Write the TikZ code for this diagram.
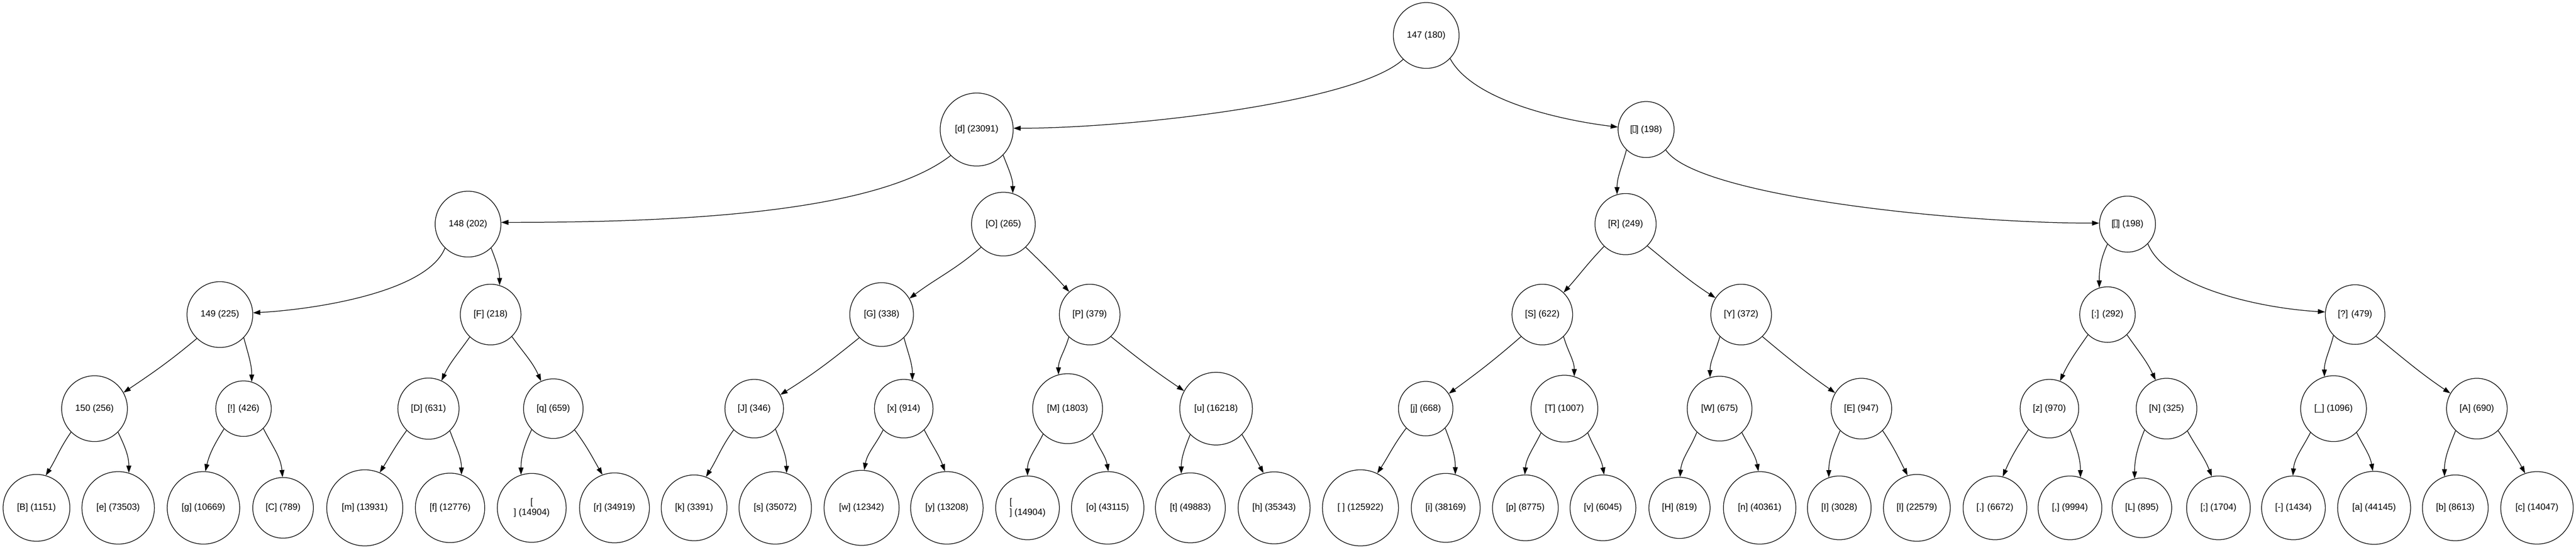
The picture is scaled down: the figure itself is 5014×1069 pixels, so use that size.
\documentclass[tikz,border=0pt]{standalone}
\usepackage{fontspec}
\setmainfont{Liberation Sans}
\usetikzlibrary{arrows.meta}
\newcommand\mglyph{{\fboxsep=0pt\fboxrule=1pt\fbox{\rule{0pt}{12.5pt}\hspace{4.5pt}}}}
\tikzset{
  nd/.style={circle, draw, line width=1.25pt, inner sep=0pt,
    font=\fontsize{17.5}{20.5}\selectfont, minimum size=2*#1},
  edge/.style={line width=1.25pt, -{Triangle[length=14pt,width=9.5pt]}},
}
\begin{document}
\begin{tikzpicture}[x=1pt,y=1pt]
\useasboundingbox (0,0) rectangle (5014,1069);
% level 0
\node[nd=64] (root) at (2776,1000) {147 (180)};
% level 1
\node[nd=71] (d) at (1901,817) {[d] (23091)};
\node[nd=54.5] (bA) at (3204,817) {[\mglyph] (198)};
% level 2
\node[nd=64] (n148) at (911,633) {148 (202)};
\node[nd=62] (O) at (1953,633) {[O] (265)};
\node[nd=59.5] (R) at (3164,633) {[R] (249)};
\node[nd=54.5] (bB) at (4141,633) {[\mglyph] (198)};
% level 3
\node[nd=64] (n149) at (428,457) {149 (225)};
\node[nd=59] (F) at (955,457) {[F] (218)};
\node[nd=62] (G) at (1716,457) {[G] (338)};
\node[nd=59] (P) at (2121,457) {[P] (379)};
\node[nd=59] (S) at (3002,457) {[S] (622)};
\node[nd=59] (Y) at (3389,457) {[Y] (372)};
\node[nd=54] (colon) at (4102,457) {[:] (292)};
\node[nd=58] (qm) at (4584,457) {[?] (479)};
% level 4
\node[nd=64] (n150) at (184,274) {150 (256)};
\node[nd=54] (excl) at (474,274) {[!] (426)};
\node[nd=59.5] (D) at (834,274) {[D] (631)};
\node[nd=58] (q) at (1077,274) {[q] (659)};
\node[nd=57] (J) at (1468,274) {[J] (346)};
\node[nd=57] (x) at (1759,274) {[x] (914)};
\node[nd=68] (M) at (2078,274) {[M] (1803)};
\node[nd=70.7] (u) at (2367,274) {[u] (16218)};
\node[nd=53] (j) at (2775,274) {[j] (668)};
\node[nd=65] (T) at (3045,274) {[T] (1007)};
\node[nd=63] (W) at (3347,274) {[W] (675)};
\node[nd=59] (E) at (3623,274) {[E] (947)};
\node[nd=57] (z) at (3989,274) {[z] (970)};
\node[nd=59] (N) at (4217,274) {[N] (325)};
\node[nd=64] (us) at (4542,274) {[\_] (1096)};
\node[nd=59] (A) at (4821,274) {[A] (690)};
% level 5
\node[nd=65] (B) at (71,81) {[B] (1151)};
\node[nd=70.5] (e) at (230,81) {[e] (73503)};
\node[nd=70.5] (g) at (396,81) {[g] (10669)};
\node[nd=59] (C) at (551,81) {[C] (789)};
\node[nd=74] (m) at (710,81) {[m] (13931)};
\node[nd=67.5] (f) at (876,81) {[f] (12776)};
\node[nd=67, align=center] (nlA) at (1035,81) {[\\] (14904)};
\node[nd=68] (r) at (1196,81) {[r] (34919)};
\node[nd=64] (k) at (1351,81) {[k] (3391)};
\node[nd=70.5] (s) at (1509,81) {[s] (35072)};
\node[nd=73] (w) at (1677,81) {[w] (12342)};
\node[nd=70.5] (y) at (1843,81) {[y] (13208)};
\node[nd=62, align=left] (nlB) at (2000,81) {[\\] (14904)};
\node[nd=70.5] (o) at (2156,81) {[o] (43115)};
\node[nd=68] (t) at (2317,81) {[t] (49883)};
\node[nd=70] (h) at (2480,81) {[h] (35343)};
\node[nd=74] (sp) at (2648,81) {[ ] (125922)};
\node[nd=67] (i) at (2814,81) {[i] (38169)};
\node[nd=64] (p) at (2969,81) {[p] (8775)};
\node[nd=64] (v) at (3120,81) {[v] (6045)};
\node[nd=59.5] (H) at (3269,81) {[H] (819)};
\node[nd=70.5] (n) at (3425,81) {[n] (40361)};
\node[nd=62] (I) at (3580,81) {[I] (3028)};
\node[nd=65] (l) at (3731,81) {[l] (22579)};
\node[nd=62] (dot) at (3883,81) {[.] (6672)};
\node[nd=62] (comma) at (4029,81) {[,] (9994)};
\node[nd=58] (L) at (4169,81) {[L] (895)};
\node[nd=62] (semi) at (4318,81) {[;] (1704)};
\node[nd=62] (dash) at (4464,81) {[-] (1434)};
\node[nd=71] (a) at (4621,81) {[a] (44145)};
\node[nd=64] (b) at (4779,81) {[b] (8613)};
\node[nd=70.5] (c) at (4938,81) {[c] (14047)};
% edges level 0 -> 1
\draw[edge] (root.-134) .. controls +(-92,-85) and +(223,0) .. (d.2);
\draw[edge] (root.-44) .. controls +(46,-85) and +(-100,12) .. (bA.175);
% level 1 -> 2
\draw[edge] (d.-135) .. controls +(-148,-115) and +(323,0) .. (n148.3);
\draw[edge] (d.-44) to[out=-69,in=90] (O.73);
\draw[edge] (bA.-134) to[out=-105,in=90] (R.106);
\draw[edge] (bA.-46) .. controls +(58,-89) and +(-285,0) .. (bB.178);
% level 2 -> 3
\draw[edge] (n148.-134) .. controls +(-34,-85) and +(125,7) .. (n149.3);
\draw[edge] (n148.-46) to[out=-69,in=90] (F.73);
\draw[edge] (O.-134) to[out=-139,in=37] (G.30);
\draw[edge] (O.-46) to[out=-44,in=132] (P.132);
\draw[edge] (R.-134) to[out=-134,in=48] (S.46);
\draw[edge] (R.-45) to[out=-39,in=147] (Y.147);
\draw[edge] (bB.-135) to[out=-115,in=90] (colon.107);
\draw[edge] (bB.-44) .. controls +(34,-85) and +(-125,7) .. (qm.175);
% level 3 -> 4
\draw[edge] (n149.-134) to[out=-140,in=34] (n150.29);
\draw[edge] (n149.-44) to[out=-75,in=90] (excl.73);
\draw[edge] (F.-133) to[out=-125,in=65] (D.65);
\draw[edge] (F.-46) to[out=-54,in=114] (q.114);
\draw[edge] (G.-134) to[out=-141,in=32] (J.28);
\draw[edge] (G.-46) to[out=-75,in=90] (x.73);
\draw[edge] (P.-133) to[out=-106,in=90] (M.105);
\draw[edge] (P.-46) to[out=-39,in=146] (u.151);
\draw[edge] (S.-134) to[out=-139,in=36] (j.33);
\draw[edge] (S.-46) to[out=-74,in=90] (T.73);
\draw[edge] (Y.-134) to[out=-106,in=90] (W.107);
\draw[edge] (Y.-46) to[out=-40,in=145] (E.149);
\draw[edge] (colon.-134) to[out=-125,in=65] (z.69);
\draw[edge] (colon.-46) to[out=-55,in=115] (N.111);
\draw[edge] (qm.-136) to[out=-104,in=90] (us.106);
\draw[edge] (qm.-46) to[out=-39,in=146] (A.150);
% level 4 -> 5
\draw[edge] (n150.-135) to[out=-125,in=58] (B.74);
\draw[edge] (n150.-45) to[out=-64,in=90] (e.73);
\draw[edge] (excl.-134) to[out=-122,in=77] (g.87);
\draw[edge] (excl.-45) to[out=-63,in=95] (C.91);
\draw[edge] (D.-135) to[out=-126,in=58] (m.67);
\draw[edge] (D.-46) to[out=-70,in=90] (f.71);
\draw[edge] (q.-136) to[out=-115,in=90] (nlA.108);
\draw[edge] (q.-45) to[out=-53,in=120] (r.110);
\draw[edge] (J.-134) to[out=-126,in=58] (k.69);
\draw[edge] (J.-44) to[out=-69,in=90] (s.72);
\draw[edge] (x.-134) to[out=-117,in=80] (w.86);
\draw[edge] (x.-46) to[out=-63,in=110] (y.93);
\draw[edge] (M.-134) to[out=-116,in=90] (nlB.90);
\draw[edge] (M.-45) to[out=-67,in=100] (o.89);
\draw[edge] (u.-135) to[out=-112,in=90] (t.105);
\draw[edge] (u.-45) to[out=-59,in=118] (h.107);
\draw[edge] (j.-135) to[out=-127,in=57] (sp.64);
\draw[edge] (j.-45) to[out=-69,in=90] (i.74);
\draw[edge] (T.-134) to[out=-116,in=85] (p.91);
\draw[edge] (T.-46) to[out=-68,in=100] (v.88);
\draw[edge] (W.-134) to[out=-112,in=85] (H.89);
\draw[edge] (W.-47) to[out=-63,in=100] (n.92);
\draw[edge] (E.-134) to[out=-113,in=90] (I.109);
\draw[edge] (E.-46) to[out=-56,in=117] (l.106);
\draw[edge] (z.-135) to[out=-123,in=67] (dot.76);
\draw[edge] (z.-46) to[out=-69,in=90] (comma.71);
\draw[edge] (N.-136) to[out=-112,in=90] (L.104);
\draw[edge] (N.-47) to[out=-61,in=111] (semi.102);
\draw[edge] (us.-134) to[out=-117,in=85] (dash.91);
\draw[edge] (us.-46) to[out=-63,in=100] (a.92);
\draw[edge] (A.-134) to[out=-112,in=90] (b.109);
\draw[edge] (A.-46) to[out=-56,in=118] (c.109);
\end{tikzpicture}
\end{document}
